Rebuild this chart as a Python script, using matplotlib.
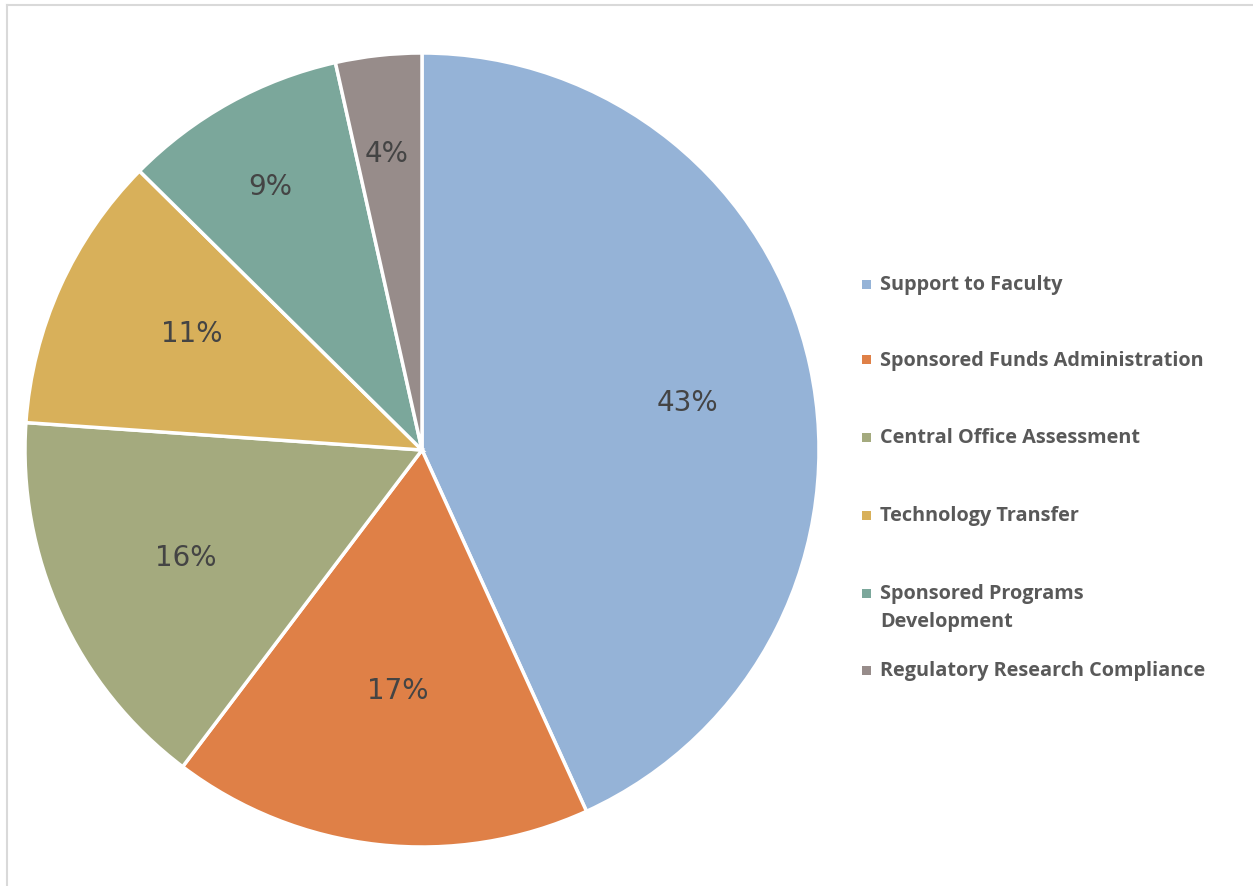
import matplotlib.pyplot as plt
from matplotlib.patches import Rectangle
from matplotlib.lines import Line2D
import numpy as np

categories = ["Support to Faculty", "Sponsored Funds Administration",
              "Central Office Assessment", "Technology Transfer",
              "Sponsored Programs\nDevelopment", "Regulatory Research Compliance"]
shares = [43.2, 17.1, 15.8, 11.3, 9.1, 3.5]
pct_labels = ["43%", "17%", "16%", "11%", "9%", "4%"]
colors = ["#95B3D7", "#DF8047", "#A4AA7E", "#D8B05A", "#7BA79B", "#978C8A"]

W, H = 1253, 886
fig = plt.figure(figsize=(W / 100, H / 100), dpi=100)

# pie centered near (422, 450) px with radius ~397 px
cx, cy, r = 422, 450, 397
ax = fig.add_axes([(cx - r) / W, (H - cy - r) / H, 2 * r / W, 2 * r / H])
wedges, _ = ax.pie(shares, colors=colors, startangle=90, counterclock=False,
                   wedgeprops=dict(edgecolor="white", linewidth=2.5))
ax.set_xlim(-1, 1)
ax.set_ylim(-1, 1)
ax.set_aspect("equal")

# label radius and small angle shift per slice (Excel-like placement)
label_r = [0.68, 0.61, 0.655, 0.65, 0.765, 0.75]
label_shift = [-2.2, 0.5, 0, -2.5, 1.0, 0.5]
for w, txt, lr, sh in zip(wedges, pct_labels, label_r, label_shift):
    mid = np.deg2rad((w.theta1 + w.theta2) / 2 + sh)
    ax.text(lr * np.cos(mid), lr * np.sin(mid), txt, ha="center", va="center",
            fontsize=20, color="#444444", family="DejaVu Sans")

# legend drawn by hand
leg_y = [284, 360, 437, 515, 593, 670]
for lab, col, y in zip(categories, colors, leg_y):
    fig.patches.append(Rectangle((862 / W, 1 - (y + 4.5) / H), 9 / W, 9 / H,
                                 transform=fig.transFigure, facecolor=col,
                                 edgecolor="none"))
    fig.text(880 / W, 1 - (y - 9) / H, lab, ha="left", va="top",
             fontsize=14.3, fontweight="bold", color="#595959",
             family="Open Sans", linespacing=1.5)

# chart border (top and left visible)
fig.lines.append(Line2D([7 / W, 1], [1 - 5 / H, 1 - 5 / H], transform=fig.transFigure,
                        color="#D9D9D9", linewidth=1.5))
fig.lines.append(Line2D([7 / W, 7 / W], [0, 1 - 5 / H], transform=fig.transFigure,
                        color="#D9D9D9", linewidth=1.5))

fig.savefig("out.png", dpi=100)
